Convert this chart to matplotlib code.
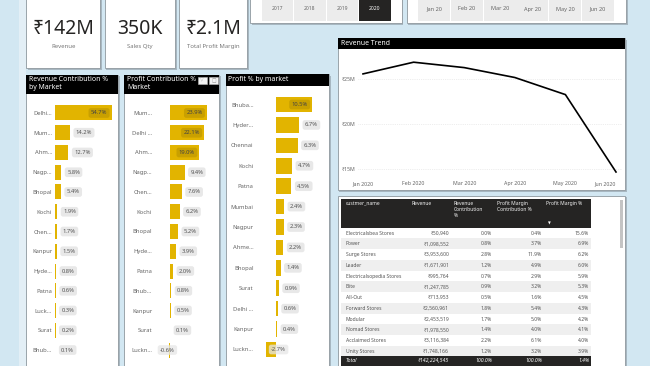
import matplotlib
matplotlib.use('Agg')
import matplotlib.pyplot as plt
from matplotlib.patches import Rectangle
import numpy as np

plt.rcParams['font.family'] = ['Noto Sans', 'DejaVu Sans']

# ---------------- data ----------------
kpi_values = ['₹142M', '350K', '₹2.1M']
kpi_labels = ['Revenue', 'Sales Qty', 'Total Profit Margin']

years = ['2017', '2018', '2019', '2020']
selected_year = '2020'
months = ['Jan 20', 'Feb 20', 'Mar 20', 'Apr 20', 'May 20', 'Jun 20']

rev_markets = ['Delhi...', 'Mum...', 'Ahm...', 'Nagp...', 'Bhopal', 'Kochi', 'Chen...',
               'Kanpur', 'Hyde...', 'Patna', 'Luck...', 'Surat', 'Bhub...']
rev_contrib = [54.7, 14.2, 12.7, 5.8, 5.4, 1.9, 1.7, 1.5, 0.8, 0.6, 0.3, 0.2, 0.1]

profit_markets = ['Mum...', 'Delhi ...', 'Ahm...', 'Nagp...', 'Chen...', 'Kochi', 'Bhopal',
                  'Hyde...', 'Patna', 'Bhub...', 'Kanpur', 'Surat', 'Luckn...']
profit_contrib = [23.9, 22.1, 19.0, 9.4, 7.6, 6.2, 5.2, 3.9, 2.0, 0.8, 0.5, 0.1, -0.6]

pm_markets = ['Bhuba...', 'Hyder...', 'Chennai', 'Kochi', 'Patna', 'Mumbai', 'Nagpur',
              'Ahme...', 'Bhopal', 'Surat', 'Delhi ...', 'Kanpur', 'Luckn...']
pm_pct = [10.5, 6.7, 6.3, 4.7, 4.5, 2.4, 2.3, 2.2, 1.4, 0.9, 0.6, 0.4, -2.7]

trend_months = ['Jan 2020', 'Feb 2020', 'Mar 2020', 'Apr 2020', 'May 2020', 'Jun 2020']
trend_revenue_m = [25.6, 26.9, 26.3, 25.2, 23.3, 14.7]
trend_ticks_m = [15, 20, 25]

table_columns = ['custmer_name', 'Revenue', 'Revenue\nContribution\n%',
                 'Profit Margin\nContribution %', 'Profit Margin %']
table_customers = ['Electricalsbea Stores', 'Power', 'Surge Stores', 'Leader',
                   'Electricalsopedia Stores', 'Elite', 'All-Out', 'Forward Stores',
                   'Modular', 'Nomad Stores', 'Acclaimed Stores', 'Unity Stores']
table_revenue = [50940, 1098552, 3953600, 1671901, 995764, 1247785, 713953,
                 2560961, 2453519, 1978550, 3116384, 1748166]
table_rev_contrib = [0.0, 0.8, 2.8, 1.2, 0.7, 0.9, 0.5, 1.8, 1.7, 1.4, 2.2, 1.2]
table_pm_contrib = [0.4, 3.7, 11.9, 4.9, 2.9, 3.2, 1.6, 5.4, 5.0, 4.0, 6.1, 3.2]
table_pm_pct = [15.6, 6.9, 6.2, 6.0, 5.9, 5.3, 4.5, 4.3, 4.2, 4.1, 4.0, 3.9]
table_total = ['Total', '₹142,224,545', '100.0%', '100.0%', '1.4%']

# ---------------- style ----------------
W, H = 650, 366
BG = '#d2e7f2'
GOLD = '#e2b400'
GOLD_DARK = '#c9a000'
DARK = '#252423'
BORDER = '#8e979e'
SHADOW = '#a7b7c1'

fig = plt.figure(figsize=(W / 100, H / 100), dpi=100)
fig.patch.set_facecolor(BG)


def box(x0, y0, x1, y1):
    return [x0 / W, 1 - y1 / H, (x1 - x0) / W, (y1 - y0) / H]


def rect(x0, y0, x1, y1, fc, ec='none', lw=0, z=-5):
    fig.patches.append(Rectangle((x0 / W, 1 - y1 / H), (x1 - x0) / W, (y1 - y0) / H,
                                 transform=fig.transFigure, facecolor=fc,
                                 edgecolor=ec, linewidth=lw, zorder=z))


def ftext(x, y, s, **kw):
    fig.text(x / W, 1 - y / H, s, **kw)


def panel(x0, y0, x1, y1):
    rect(x0 + 1.5, y0 + 1.5, x1 + 1.5, y1 + 1.5, SHADOW, z=-6)
    rect(x0, y0, x1, y1, 'white', ec=BORDER, lw=0.6, z=-5)


def title_bar(x0, y0, x1, y1, text, tx, ty):
    rect(x0, y0, x1, y1, 'black', z=-4)
    ftext(tx, ty, text, color='white', fontsize=5.0, fontweight='bold',
          va='top', ha='left', linespacing=1.05)


# light canvas strip at the left edge
rect(19, 0, 26, 366, '#e3eff6', z=-7)

# ---------------- KPI cards ----------------
cards = [(26.5, 100), (104.7, 175), (178.7, 247.3)]
for (x0, x1), val, lab in zip(cards, kpi_values, kpi_labels):
    panel(x0, -5, x1, 68)
    cx = (x0 + x1) / 2
    ftext(cx, 29, val, fontsize=14, color=DARK, ha='center', va='center')
    ftext(cx, 46.5, lab, fontsize=4.3, color='#777777', ha='center', va='center')

# ---------------- slicers ----------------
panel(250, -5, 401.7, 23)
for i, yr in enumerate(years):
    bx0 = 261.7 + i * 32.4
    sel = yr == selected_year
    rect(bx0, -2, bx0 + 31.6, 20.5, DARK if sel else '#ececec', z=-4)
    ftext(bx0 + 15.8, 9, yr, fontsize=3.6, color='white' if sel else '#666666',
          ha='center', va='center')

panel(406.7, -5, 626, 23.3)
for i, m in enumerate(months):
    bx0 = 418.3 + i * 32.7
    rect(bx0, -2, bx0 + 32, 20.5, '#ececec', z=-4)
    ftext(bx0 + 16, 9, m, fontsize=4.0, color='#666666', ha='center', va='center')


# ---------------- bar panels ----------------
def bar_panel(cats, vals, ax_l, ax_r, top, bottom, zero_px, px_per_unit,
              inside_min, neg_offset):
    ax = fig.add_axes(box(ax_l, top, ax_r, bottom))
    ax.set_facecolor('none')
    n = len(vals)
    y = np.arange(n)
    ax.barh(y, vals, height=0.76, color=GOLD)
    ax.set_xlim((ax_l - zero_px) / px_per_unit, (ax_r - zero_px) / px_per_unit)
    ax.set_ylim(n - 0.5, -0.5)
    ax.set_yticks(y, cats)
    ax.tick_params(axis='y', length=0, pad=1.4, labelsize=4.2, labelcolor='#666666')
    ax.set_xticks([])
    for s in ax.spines.values():
        s.set_visible(False)
    for yi, v in zip(y, vals):
        lab = f'{v:.1f}%'
        if v >= inside_min:
            ax.annotate(lab, (v, yi), xytext=(-3.2, 0), textcoords='offset points',
                        ha='right', va='center', fontsize=4.2, color='#444444',
                        bbox=dict(boxstyle='round,pad=0.4', fc=GOLD_DARK, ec='none'))
        elif v < 0:
            ax.annotate(lab, (v, yi), xytext=(neg_offset, 0), textcoords='offset points',
                        ha='left', va='center', fontsize=4.2, color='#555555',
                        bbox=dict(boxstyle='round,pad=0.4', fc='#e6e6e6', ec='none',
                                  alpha=0.75))
        else:
            ax.annotate(lab, (v, yi), xytext=(4.2, 0), textcoords='offset points',
                        ha='left', va='center', fontsize=4.2, color='#555555',
                        bbox=dict(boxstyle='round,pad=0.4', fc='#e8e8e8', ec='none'))
    return ax


panel(26.5, 74.5, 118.3, 372)
title_bar(26.5, 74.5, 118.3, 94.3, 'Revenue Contribution %\nby Market', 29, 76.3)
bar_panel(rev_markets, rev_contrib, 54, 117, 103.1, 359.9, 55.3,
          (111.7 - 55.3) / 54.7, 30, 3.5)

panel(124.3, 74.5, 219, 372)
title_bar(124.3, 74.5, 219, 94.3, 'Profit Contribution %\nMarket', 127, 76.3)
for ix in (197.7, 209.3):
    rect(ix, 76.7, ix + 9, 84, '#f4f4f4', ec='#bbbbbb', lw=0.4, z=-3)
ftext(202.2, 80.3, '▽', fontsize=3.4, color='#888888', ha='center', va='center')
ftext(213.8, 80.3, '□', fontsize=3.4, color='#888888', ha='center', va='center')
bar_panel(profit_markets, profit_contrib, 154, 217, 103.1, 359.9, 170,
          (207 - 170) / 23.9, 15, -6.5)

panel(226, 74, 329.3, 372)
title_bar(226, 74, 329.3, 85.7, 'Profit % by market', 228.5, 75.8)
bar_panel(pm_markets, pm_pct, 255.5, 327, 94.3, 359.7, 275.7,
          (312.3 - 275.7) / 10.5, 8, 3.5)

# ---------------- revenue trend ----------------
panel(337.7, 38.3, 625, 190)
title_bar(337.7, 38.3, 625, 48.6, 'Revenue Trend', 341, 39.6)
ax = fig.add_axes(box(358, 55, 622, 175))
ax.set_facecolor('none')
xt = np.arange(len(trend_months))
ax.plot(xt, trend_revenue_m, color='black', lw=1.2, solid_joinstyle='miter')
px_step = (616 - 363) / 5
ax.set_xlim(-(363 - 358) / px_step, 5 + (622 - 616) / px_step)
ax.set_ylim(15 - (175 - 169.3) / 9, 25 + (79.3 - 55) / 9)
ax.set_yticks(trend_ticks_m, [f'₹{t}M' for t in trend_ticks_m])
ax.set_xticks(xt, trend_months)
ax.tick_params(axis='both', length=0, labelsize=3.8, labelcolor='#666666')
ax.tick_params(axis='y', pad=2.2)
ax.tick_params(axis='x', pad=4.5)
ax.get_xticklabels()[-1].set_horizontalalignment('right')
ax.get_xticklabels()[-1].set_x(5.12)
ax.grid(axis='y', color='#dddddd', lw=0.5, ls=':')
for s in ax.spines.values():
    s.set_visible(False)

# ---------------- table ----------------
panel(338, 195.5, 625, 372)
tx0, tx1, ty0, ty1 = 341, 591, 199.3, 366
ta = fig.add_axes(box(tx0, ty0, tx1, ty1))
ta.set_facecolor('none')
ta.set_xlim(0, tx1 - tx0)
ta.set_ylim(ty1 - ty0, 0)
ta.axis('off')
header_h = 28.4
row_h = 10.75
ta.add_patch(Rectangle((0, 0), tx1 - tx0, header_h, fc=DARK, ec='none', zorder=1))
head_x = [4.7, 70, 113, 156.3, 205]
for hx, hname in zip(head_x, table_columns):
    ta.text(hx, 2.0, hname, fontsize=3.6, color='#f0f0f0', ha='left', va='top',
            linespacing=1.2, zorder=3)
ta.text(207, 24.5, '▼', fontsize=2.6, color='white', ha='left', va='center', zorder=3)
col_right = [108, 151, 200.7, 248]
for i, (cust, rev, rc, pc, pp) in enumerate(zip(table_customers, table_revenue,
                                               table_rev_contrib, table_pm_contrib,
                                               table_pm_pct)):
    top = header_h + i * row_h
    if i % 2 == 1:
        ta.add_patch(Rectangle((0, top), tx1 - tx0, row_h, fc='#efefef', ec='none', zorder=1))
    yc = top + row_h / 2
    ta.text(4.7, yc, cust, fontsize=3.6, color='#555555', ha='left', va='center', zorder=3)
    vals = [f'₹{rev:,}', f'{rc:.1f}%', f'{pc:.1f}%', f'{pp:.1f}%']
    for cx, v in zip(col_right, vals):
        ta.text(cx, yc, v, fontsize=3.6, color='#555555', ha='right', va='center', zorder=3)
tot_top = (ty1 - ty0) - 10.3
ta.add_patch(Rectangle((0, tot_top), tx1 - tx0, 10.3, fc=DARK, ec='none', zorder=5))
for j, t in enumerate(table_total):
    if j == 0:
        ta.text(4.7, tot_top + 5.2, t, fontsize=3.7, color='white', fontweight='bold',
                fontstyle='italic', ha='left', va='center', zorder=6)
    else:
        ta.text(col_right[j - 1], tot_top + 5.2, t, fontsize=3.7, color='white',
                fontweight='bold', fontstyle='italic', ha='right', va='center', zorder=6)
rect(620, 200, 622.5, 248, '#c4c4c4', z=-3)

fig.savefig('out.png', dpi=100, facecolor=fig.get_facecolor())
